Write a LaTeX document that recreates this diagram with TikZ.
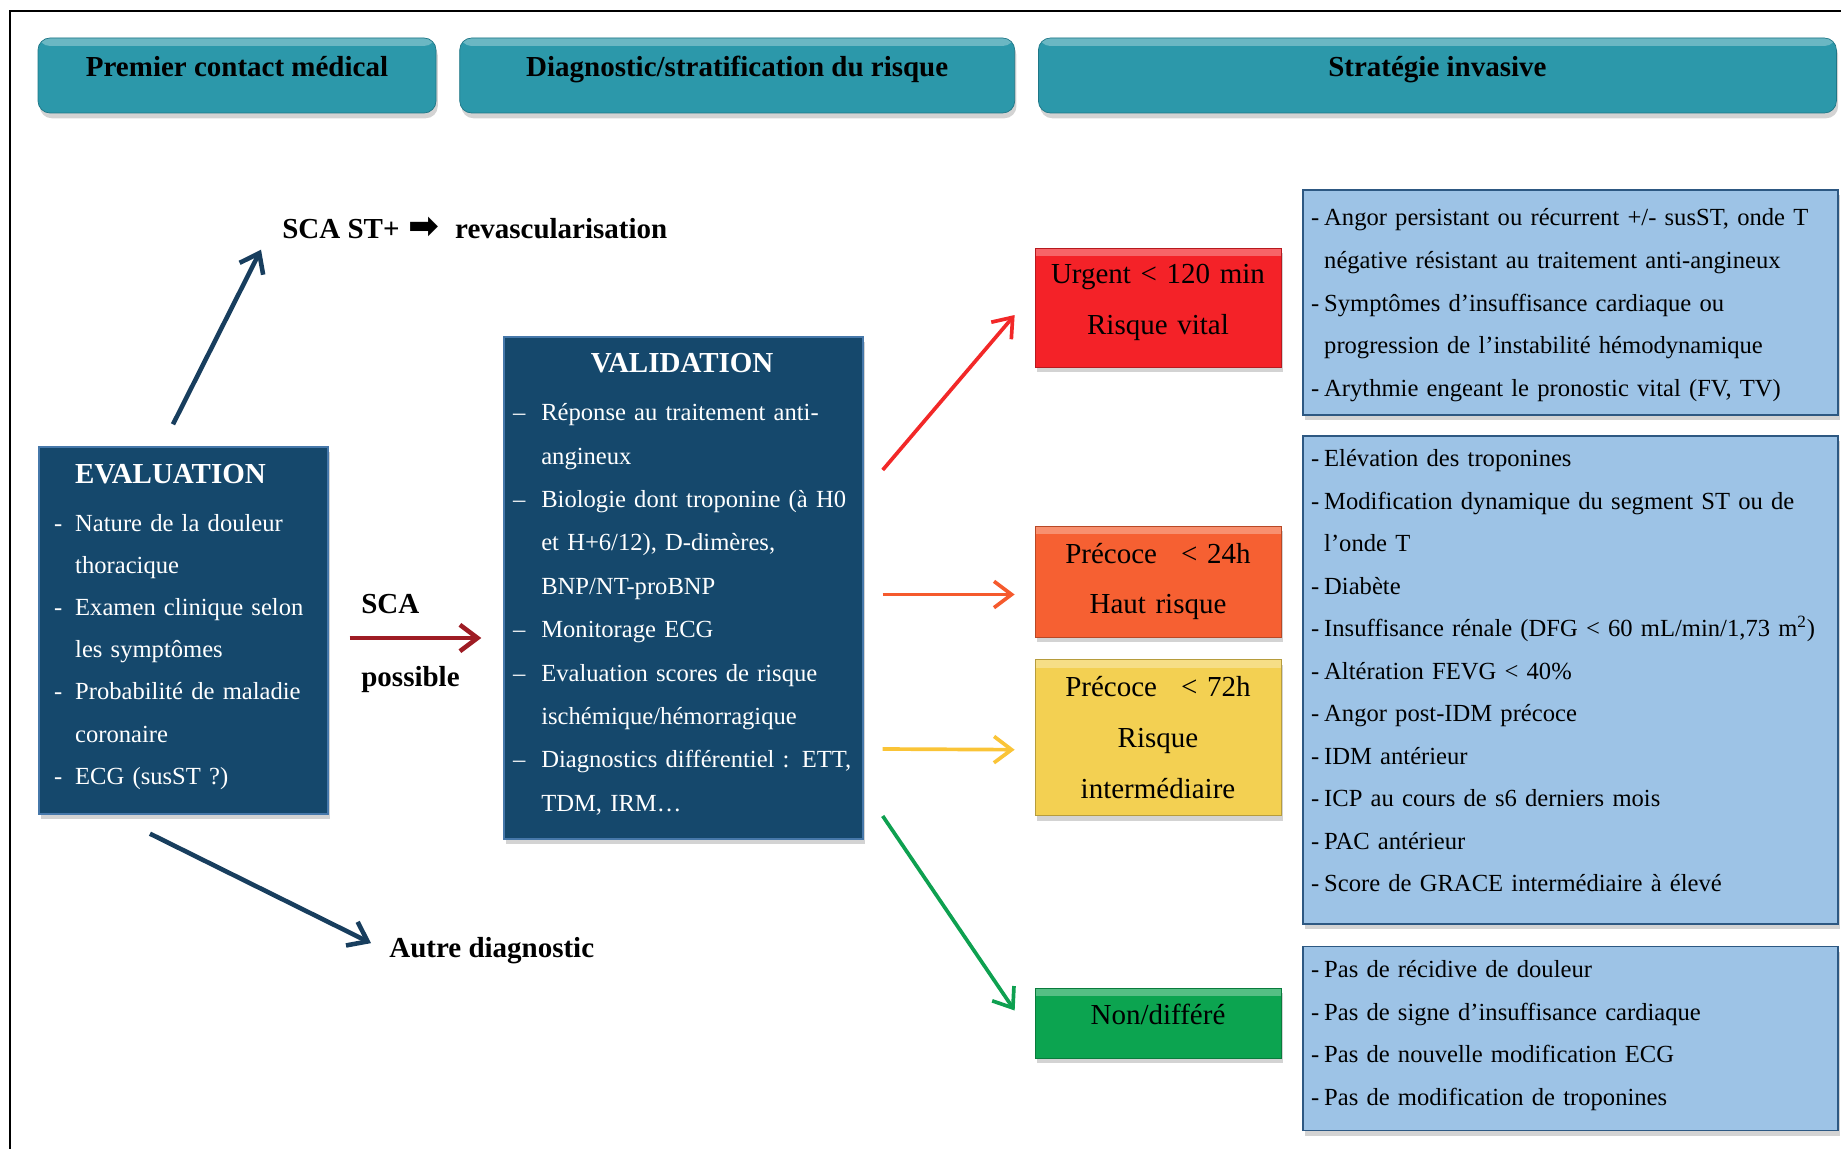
\documentclass[tikz,border=0pt]{standalone}
\usepackage{fontspec}
\setmainfont{Liberation Serif}
\newfontfamily\symbole{DejaVu Sans}
\usetikzlibrary{arrows.meta,positioning,shadows}

\definecolor{tealfond}{RGB}{44,152,170}
\definecolor{tealbord}{RGB}{30,118,134}
\definecolor{nuit}{RGB}{21,72,108}
\definecolor{nuitbord}{RGB}{70,120,170}
\definecolor{ciel}{RGB}{157,195,230}
\definecolor{cielbord}{RGB}{45,88,130}
\definecolor{rougefond}{RGB}{244,34,40}
\definecolor{orangefond}{RGB}{246,96,50}
\definecolor{jaunefond}{RGB}{243,208,82}
\definecolor{vertfond}{RGB}{12,164,80}
\definecolor{flechenuit}{RGB}{24,62,94}
\definecolor{bordeaux}{RGB}{158,28,36}
\definecolor{flecherouge}{RGB}{242,40,40}
\definecolor{flecheorange}{RGB}{245,90,45}
\definecolor{flechejaune}{RGB}{250,196,55}
\definecolor{flechevert}{RGB}{14,160,80}

\newcommand{\corps}{\fontsize{14}{24.2}\selectfont}
\newcommand{\gros}{\fontsize{16.5}{29}\selectfont}

\tikzset{
	%Define standard arrow tip
	>={Straight Barb[length=10pt,width=15pt]},
	%Light band on top of the boxes
	brillant/.style={
		path picture={\fill[white,opacity=0.3] (path picture bounding box.north west) rectangle ([yshift=-0.16cm]path picture bounding box.north east);}},
	%Define style for the header bars
	entete/.style={
		rectangle,
		rounded corners=0.24cm,
		fill=tealfond, draw=tealbord, thin,
		minimum height=1.5cm,
		inner ysep=0pt,
		text height=0.4cm, text depth=0.34cm,
		font=\gros\bfseries,
		brillant,
		drop shadow={shadow xshift=1pt, shadow yshift=-3pt, opacity=0.35}},
	%Define style for the dark boxes
	boite/.style={
		rectangle,
		fill=nuit, draw=nuitbord, line width=0.8pt,
		text=white,
		align=left,
		font=\corps,
		inner ysep=0pt,
		drop shadow={shadow xshift=1pt, shadow yshift=-3pt, opacity=0.35}},
	%Define style for the light blue lists
	liste/.style={
		rectangle,
		fill=ciel, draw=cielbord, line width=1pt,
		align=left,
		font=\corps,
		text width=10.38cm,
		inner xsep=0.16cm, inner ysep=0pt,
		drop shadow={shadow xshift=1pt, shadow yshift=-3pt, opacity=0.35}},
	%Define style for the coloured delays
	delai/.style={
		rectangle,
		fill=#1, draw=#1!75!black, thin,
		align=center,
		font=\gros,
		text width=4.72cm,
		inner xsep=0.1cm, inner ysep=0pt,
		brillant,
		drop shadow={shadow xshift=1pt, shadow yshift=-3pt, opacity=0.35}},
	%Define style for free labels
	etiquette/.style={
		font=\gros\bfseries,
		inner sep=0pt,
		anchor=base west},
	% Define arrow style
	fleche/.style={
		->,
		line width=2.1pt},
	flechelourde/.style={
		->,
		line width=2.6pt,
		flechenuit}
}

\begin{document}
\begin{tikzpicture}[node distance=1cm]

	\useasboundingbox (0,0) rectangle (36.82,-22.98);
	\draw[line width=1.2pt] (0.2,-22.98) -- (0.2,-0.22) -- (36.82,-0.22);

	% headers
	\node[entete, minimum width=7.96cm] (premier) at (4.74,-1.51) {Premier contact médical};
	\node[entete, minimum width=11.1cm, right=0.46cm of premier] (diag) {Diagnostic/stratification du risque};
	\node[entete, minimum width=15.96cm, right=0.46cm of diag] (strat) {Stratégie invasive};

	% evaluation and validation
	\node[boite, text width=5.18cm, inner xsep=0.3cm, minimum height=7.34cm] (eval) at (3.67,-12.61) {%
		\fontsize{14}{24}\selectfont
		\begin{tabular}{@{}l@{\hspace{0.26cm}}l@{}}
			& \gros\bfseries EVALUATION\\[3pt]
			- & Nature de la douleur\\
			  & thoracique\\
			- & Examen clinique selon\\
			  & les symptômes\\
			- & Probabilité de maladie\\
			  & coronaire\\
			- & ECG (susST ?)\\[0.2cm]
		\end{tabular}};
	\node[boite, text width=6.82cm, inner xsep=0.18cm, minimum height=10.04cm, font=\fontsize{14}{24.7}\selectfont] (valid) at (13.67,-11.76) {%
		\begin{tabular}{@{}l@{\hspace{0.32cm}}l@{}}
			\multicolumn{2}{c}{\gros\bfseries VALIDATION}\\[3pt]
			– & Réponse au traitement anti-\\
			  & angineux\\
			– & Biologie dont troponine (à H0\\
			  & et H+6/12), D-dimères,\\
			  & BNP/NT-proBNP\\
			– & Monitorage ECG\\
			– & Evaluation scores de risque\\
			  & ischémique/hémorragique\\
			– & Diagnostics différentiel : ETT,\\
			  & TDM, IRM…\\[0.2cm]
		\end{tabular}};

	% labels
	\node[etiquette] (scast) at (5.64,-4.76) {SCA ST+\hspace{0.3em}{\symbole\fontsize{21}{21}\selectfont ➡}\hspace{0.3em} revascularisation};
	\node[etiquette] (autre) at (7.78,-19.14) {Autre diagnostic};
	\node[etiquette] (sca) at (7.22,-12.26) {SCA};
	\node[etiquette] (possible) at (7.22,-13.72) {possible};

	% delays
	\node[delai=rougefond, minimum height=2.38cm, text height=0.4cm, text depth=1.36cm] (urgent) at (23.16,-6.15) {Urgent < 120 min\\Risque vital};
	\node[delai=orangefond, minimum height=2.22cm] (precoce) at (23.16,-11.63) {Précoce\hspace{0.5em} < 24h\\Haut risque};
	\node[delai=jaunefond, minimum height=3.12cm, below=0.44cm of precoce] (interm) {Précoce\hspace{0.5em} < 72h\\Risque\\intermédiaire};
	\node[delai=vertfond, minimum height=1.4cm, text height=0.4cm, text depth=0.36cm] (differe) at (23.16,-20.46) {Non/différé};

	% criteria
	\node[liste, minimum height=4.5cm] (crit1) at (31.41,-6.05) {%
		\begin{tabular}{@{}l@{\hspace{0.1cm}}l@{}}
			- & Angor persistant ou récurrent +/- susST, onde T\\
			  & négative résistant au traitement anti-angineux\\
			- & Symptômes d’insuffisance cardiaque ou\\
			  & progression de l’instabilité hémodynamique\\
			- & Arythmie engeant le pronostic vital (FV, TV)
		\end{tabular}};
	\node[liste, minimum height=9.76cm, below=0.38cm of crit1] (crit2) {%
		\begin{tabular}{@{}l@{\hspace{0.1cm}}l@{}}
			- & Elévation des troponines\\
			- & Modification dynamique du segment ST ou de\\
			  & l’onde T\\
			- & Diabète\\
			- & Insuffisance rénale (DFG < 60 mL/min/1,73 m\textsuperscript{2})\\
			- & Altération FEVG < 40\%\\
			- & Angor post-IDM précoce\\
			- & IDM antérieur\\
			- & ICP au cours de s6 derniers mois\\
			- & PAC antérieur\\
			- & Score de GRACE intermédiaire à élevé\\[0.36cm]
		\end{tabular}};
	\node[liste, minimum height=3.68cm, below=0.42cm of crit2] (crit3) {%
		\begin{tabular}{@{}l@{\hspace{0.1cm}}l@{}}
			- & Pas de récidive de douleur\\
			- & Pas de signe d’insuffisance cardiaque\\
			- & Pas de nouvelle modification ECG\\
			- & Pas de modification de troponines\\[0.22cm]
		\end{tabular}};

	% arrows
	\draw[flechelourde] ([xshift=-0.21cm,yshift=0.44cm]eval.north) -- ([xshift=-0.42cm,yshift=-0.22cm]scast.south west);
	\draw[flechelourde] ([xshift=-0.67cm,yshift=-0.38cm]eval.south) -- ([xshift=-0.36cm,yshift=0.14cm]autre.west);
	\draw[fleche, bordeaux, line width=2.6pt] ([xshift=0.42cm,yshift=-0.15cm]eval.east) -- ([xshift=-0.44cm,yshift=-1.0cm]valid.west);

	\path
	([xshift=0.38cm,yshift=2.36cm]valid.east) edge[fleche, flecherouge] ([xshift=-0.4cm,yshift=-0.15cm]urgent.west)
	([xshift=0.38cm,yshift=-0.13cm]valid.east) edge[fleche, flecheorange] ([xshift=-0.4cm,yshift=-0.26cm]precoce.west)
	([xshift=0.38cm,yshift=-3.22cm]valid.east) edge[fleche, flechejaune] ([xshift=-0.4cm,yshift=-0.24cm]interm.west)
	([xshift=0.38cm,yshift=-4.56cm]valid.east) edge[fleche, flechevert] ([xshift=-0.4cm,yshift=0.25cm]differe.west);

\end{tikzpicture}
\end{document}
